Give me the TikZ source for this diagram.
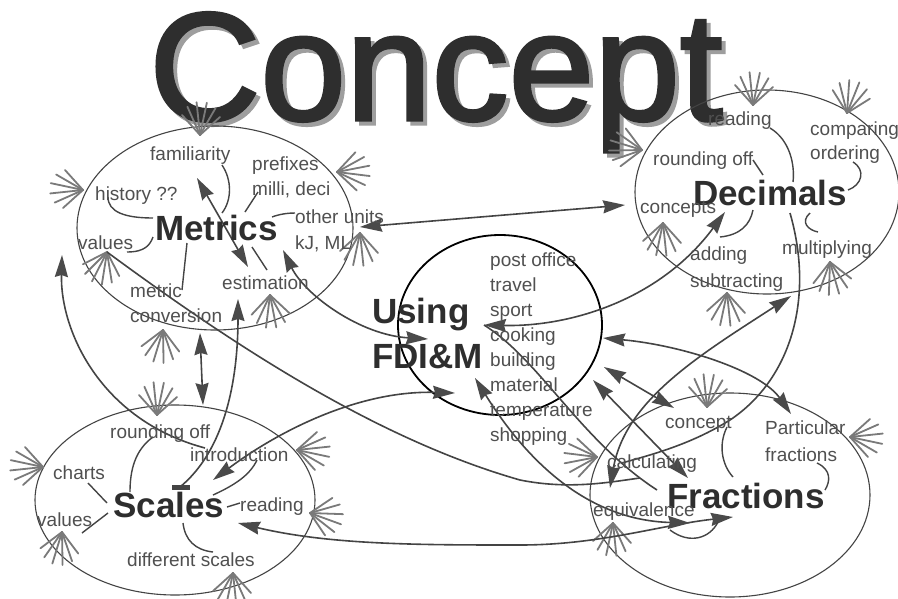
\documentclass[tikz,border=0pt]{standalone}
\usepackage{fontspec}
\setmainfont{Liberation Sans}
\newfontfamily\titlefont[FakeBold=2]{Liberation Sans}
\usetikzlibrary{arrows.meta,shapes.geometric}
\definecolor{ink}{HTML}{444444}
\definecolor{tipc}{HTML}{4A4A4A}
\definecolor{txt}{HTML}{505050}
\definecolor{fanc}{HTML}{7A7A7A}
\definecolor{lbl}{HTML}{2E2E2E}
\newcommand{\fanmark}[3]{%
  \foreach \d/\l in {-48/27,-30/31,-12/33,6/33,24/31,42/27}{%
    \draw[fanline] (#1,#2) -- ++({\l*cos(#3+\d)},{-\l*sin(#3+\d)});}}
\tikzset{
  small/.style={font=\fontsize{19}{22}\selectfont, text=txt, anchor=base west, inner sep=0pt},
  big/.style={font=\fontsize{35}{40}\selectfont\bfseries, text=lbl, anchor=base west, inner sep=0pt},
  bubble/.style={ellipse, draw=ink, line width=1.1pt, inner sep=0pt},
  conn/.style={draw=ink, line width=1.6pt},
  link/.style={draw=ink, line width=1.4pt},
  fanline/.style={draw=fanc, line width=1.8pt, line cap=round},
  tp/.tip={Stealth[length=22pt,width=13pt,inset=2pt,color=tipc]},
  arr/.style={-tp},
  rarr/.style={tp-},
  darr/.style={tp-tp},
  titletext/.style={font=\titlefont\fontsize{154}{160}\selectfont, anchor=base west, inner sep=0pt},
}
\begin{document}
\begin{tikzpicture}[x=1pt,y=-1pt]
\useasboundingbox (0,0) rectangle (898,598);
\fill[white] (0,0) rectangle (898,598);

% title
\node[titletext, text=black!38] (titlesh) at (153,124) {Concept};
\node[titletext, text=lbl] (title) at (149,120) {Concept};

% bubbles
\node[bubble, minimum width=276pt, minimum height=204pt] (mE) at (215,228) {};
\node[bubble, minimum width=264pt, minimum height=204pt] (dE) at (767,192) {};
\node[bubble, minimum width=280pt, minimum height=190pt] (sE) at (175,500) {};
\node[bubble, minimum width=280pt, minimum height=204pt] (fE) at (730,495) {};
\node[ellipse, draw=black, line width=1.8pt, inner sep=0pt, minimum width=204pt, minimum height=180pt] (uE) at (500,325) {};

% fans
\fanmark{200}{135}{90}
\fanmark{83}{190}{180}
\fanmark{337}{172}{5}
\fanmark{360}{233}{-90}
\fanmark{107}{252}{-105}
\fanmark{270}{295}{-85}
\fanmark{163}{330}{-95}
\fanmark{753}{105}{90}
\fanmark{847}{113}{80}
\fanmark{642}{150}{175}
\fanmark{663}{223}{-90}
\fanmark{727}{293}{-90}
\fanmark{830}{262}{-80}
\fanmark{157}{415}{90}
\fanmark{43}{467}{180}
\fanmark{62}{532}{-95}
\fanmark{297}{450}{0}
\fanmark{310}{513}{-8}
\fanmark{233}{573}{-90}
\fanmark{707}{407}{90}
\fanmark{850}{437}{0}
\fanmark{597}{457}{185}
\fanmark{613}{523}{-90}

% named end points
\coordinate (mR) at (360,227);
\coordinate (dL) at (625,205);
\coordinate (uSport) at (484,325);
\coordinate (dAdd) at (725,212);
\coordinate (mKJ) at (283,250);
\coordinate (uLeft) at (428,339);
\coordinate (mBot) at (200,333);
\coordinate (sTop) at (203,405);
\coordinate (mEst) at (238,299);
\coordinate (sMid) at (180,487);
\coordinate (mLeft) at (62,255);
\coordinate (sIntro) at (205,448);
\coordinate (sArr) at (213,480);
\coordinate (uLow) at (455,393);
\coordinate (sRead) at (238,523);
\coordinate (fEq) at (733,517);
\coordinate (fEq2) at (690,523);
\coordinate (uBot) at (475,378);
\coordinate (mVal) at (107,252);
\coordinate (fCalc) at (640,478);
\coordinate (uR1) at (603,338);
\coordinate (fPart) at (791,414);
\coordinate (uR2) at (604,367);
\coordinate (fConc) at (674,408);
\coordinate (uR3) at (593,380);
\coordinate (fFr) at (688,478);
\coordinate (dMul) at (791,296);
\coordinate (fEqTop) at (610,488);
\coordinate (dMid) at (790,213);
\coordinate (fCalc2) at (622,463);
\coordinate (fF) at (657,490);

% long connectors
\draw[conn, darr] (mR) -- (dL);
\draw[conn, darr] (uSport) .. controls (570,327) and (660,300) .. (dAdd);
\draw[conn, darr] (mKJ) .. controls (305,295) and (360,335) .. (uLeft);
\draw[conn, darr] (mBot) -- (sTop);
\draw[conn, rarr] (mEst) .. controls (238,380) and (225,450) .. (sMid);
\draw[conn, line width=5pt] (172,487) -- (190,487);
\draw[conn, rarr] (mLeft) .. controls (60,330) and (100,420) .. (sIntro);
\draw[conn, darr] (sArr) .. controls (280,430) and (360,390) .. (uLow);
\draw[conn, darr] (sRead) .. controls (330,545) and (420,545) .. (520,545) .. controls (600,545) and (660,525) .. (fEq);
\draw[conn, darr] (uBot) .. controls (520,450) and (580,520) .. (fEq2);
\draw[conn] (mVal) .. controls (240,350) and (380,440) .. (520,480) .. controls (570,490) and (610,482) .. (fCalc);
\draw[conn] (uSport) .. controls (540,360) and (580,440) .. (fF);
\draw[conn, darr] (uR1) .. controls (680,345) and (760,370) .. (fPart);
\draw[conn, darr] (uR2) -- (fConc);
\draw[conn, darr] (uR3) -- (fFr);
\draw[conn, darr] (dMul) .. controls (700,355) and (625,400) .. (fEqTop);
\draw[conn] (dMid) .. controls (815,300) and (790,380) .. (730,420) .. controls (690,445) and (650,455) .. (fCalc2);

% short links inside bubbles
\draw[conn, darr] (197,178) -- (248,267);
\draw[link] (108,197) .. controls (108,212) and (125,218) .. (153,218);
\draw[link] (127,252) .. controls (145,252) and (150,245) .. (153,237);
\draw[link] (222,165) .. controls (232,180) and (232,200) .. (222,213);
\draw[link] (245,212) -- (258,192);
\draw[link] (272,217) .. controls (280,214) and (288,213) .. (295,213);
\draw[link] (252,247) -- (267,270);
\draw[link] (187,243) -- (182,290);
\draw[link] (770,128) .. controls (790,140) and (795,165) .. (793,182);
\draw[link] (853,162) .. controls (866,170) and (862,185) .. (848,190);
\draw[link] (753,160) -- (763,175);
\draw[link] (810,213) .. controls (800,222) and (808,230) .. (818,232);
\draw[link] (753,210) .. controls (750,225) and (740,235) .. (720,237);
\draw[link] (153,437) .. controls (135,450) and (130,470) .. (130,492);
\draw[link] (88,483) -- (107,503);
\draw[link] (82,533) -- (108,513);
\draw[link] (227,507) -- (240,503);
\draw[link] (183,523) .. controls (185,540) and (195,550) .. (213,552);
\draw[link] (257,460) .. controls (250,475) and (235,485) .. (213,495);
\draw[link] (727,427) .. controls (718,445) and (722,465) .. (733,477);
\draw[link] (817,463) .. controls (832,470) and (830,482) .. (825,490);
\draw[link] (670,530) .. controls (690,545) and (710,538) .. (718,522);

% labels: Metrics
\node[small] (familiarity) at (150,160) {familiarity};
\node[small] (prefixes) at (252,170) {prefixes};
\node[small] (milli) at (252,195) {milli, deci};
\node[small] (history) at (95,200) {history ??};
\node[big] (metrics) at (155,240) {Metrics};
\node[small] (mvalues) at (78,249) {values};
\node[small] (otherunits) at (295,223) {other units};
\node[small] (kjml) at (295,249) {kJ, ML};
\node[small] (estimation) at (222,289) {estimation};
\node[small] (metric) at (130,297) {metric};
\node[small] (conversion) at (130,322) {conversion};
% Decimals
\node[small] (dreading) at (708,125) {reading};
\node[small] (comparing) at (810,135) {comparing};
\node[small] (ordering) at (810,159) {ordering};
\node[small] (drounding) at (653,165) {rounding off};
\node[big] (decimals) at (693,205) {Decimals};
\node[small] (concepts) at (640,213) {concepts};
\node[small] (multiplying) at (782,254) {multiplying};
\node[small] (adding) at (690,260) {adding};
\node[small] (subtracting) at (690,287) {subtracting};
% Using
\node[big] (using) at (372,323) {Using};
\node[big] (fdim) at (372,368) {FDI\&M};
\node[small] (post) at (490,266) {post office};
\node[small] (travel) at (490,291) {travel};
\node[small] (sport) at (490,316) {sport};
\node[small] (cooking) at (490,341) {cooking};
\node[small] (building) at (490,366) {building};
\node[small] (material) at (490,391) {material};
\node[small] (temperature) at (490,416) {temperature};
\node[small] (shopping) at (490,441) {shopping};
% Scales
\node[small] (srounding) at (110,438) {rounding off};
\node[small] (introduction) at (190,461) {introduction};
\node[small] (charts) at (53,479) {charts};
\node[big] (scales) at (113,517) {Scales};
\node[small] (sreading) at (240,511) {reading};
\node[small] (svalues) at (37,526) {values};
\node[small] (different) at (127,566) {different scales};
% Fractions
\node[small] (concept) at (665,428) {concept};
\node[small] (particular) at (765,434) {Particular};
\node[small] (pfractions) at (765,461) {fractions};
\node[small] (calculating) at (607,468) {calculating};
\node[big] (fractions) at (667,508) {Fractions};
\node[small] (equivalence) at (593,516) {equivalence};
\end{tikzpicture}
\end{document}
